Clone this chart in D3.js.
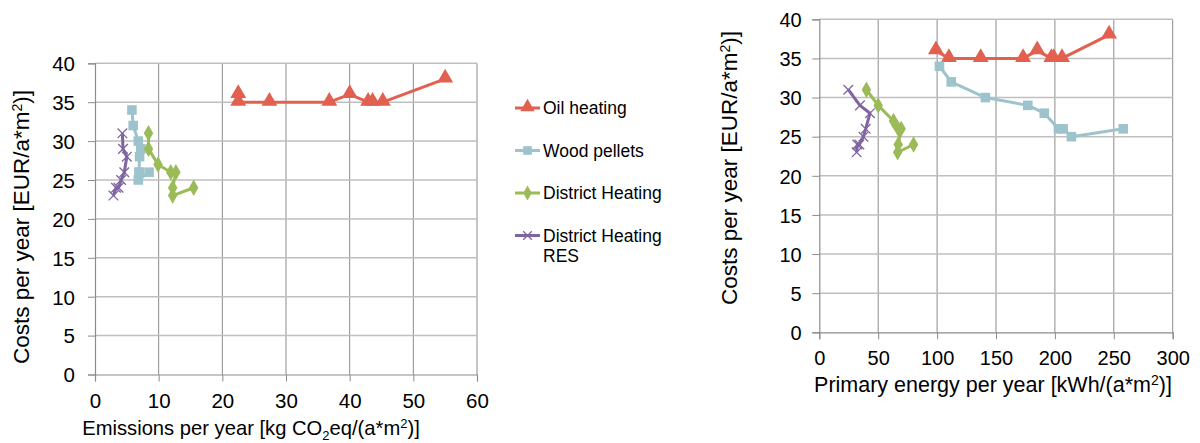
<!DOCTYPE html>
<html>
<head>
<meta charset="utf-8">
<script src="https://cdn.jsdelivr.net/npm/d3@7"></script>
<style>
  body { margin: 0; background: #fff; }
  svg { font-family: "Liberation Sans", Arial, sans-serif; }
</style>
</head>
<body>
<svg id="chart" width="1200" height="443"></svg>
<script>
// series names, in legend order
var seriesNames = ["Oil heating", "Wood pellets", "District Heating", "District Heating RES"];

// costs per year [EUR/a*m2], same for both panels
var oilCosts   = [36, 35, 35, 35, 36, 35, 35, 35, 38];
var woodCosts  = [34, 32, 30, 29, 28, 26, 26, 25, 26];
var dhCosts    = [31, 29, 27, 26, 26, 24, 23, 24];
var resCosts   = [31, 29, 28, 26, 25, 24, 24, 23];

// emissions per year [kg CO2eq/(a*m2)]
var oilEmissions  = [22.5, 22.5, 27.4, 36.8, 40.0, 42.9, 43.6, 45.2, 55.0];
var woodEmissions = [5.8, 6.0, 6.8, 7.2, 7.0, 6.9, 7.0, 6.8, 8.5];
var dhEmissions   = [8.4, 8.4, 9.9, 11.9, 12.7, 12.2, 12.2, 15.5];
var resEmissions  = [4.3, 4.4, 5.0, 4.6, 4.1, 3.7, 3.3, 2.9];

// primary energy per year [kWh/(a*m2)]
var oilEnergy  = [99, 110, 137, 173, 185, 197, 199, 206, 246];
var woodEnergy = [102, 112, 141, 177, 191, 203, 207, 214, 258];
var dhEnergy   = [40, 50, 63, 67, 69.5, 67, 66.5, 80];
var resEnergy  = [24.6, 34.5, 43, 39.4, 37.4, 34, 32.3, 31.7];

var costTicks     = [0, 5, 10, 15, 20, 25, 30, 35, 40];
var emissionTicks = [0, 10, 20, 30, 40, 50, 60];
var energyTicks   = [0, 50, 100, 150, 200, 250, 300];

var colors = ["#e2604f", "#9dc3cc", "#9bbb59", "#8064a2"];
var markers = ["triangle", "square", "diamond", "cross"];

var svg = d3.select("#chart");

function zip(xs, ys) {
  return xs.map(function (x, i) { return {x: x, y: ys[i]}; });
}

function sup(t, s, size) {
  t.append("tspan").text(s).style("font-size", size + "px").attr("dy", -7);
}

function drawMarker(g, type, color, scale) {
  scale = scale || 1;
  if (type == "cross") {
    var r = 4.8 * scale;
    g.append("path")
      .attr("d", "M" + -r + "," + -r + "L" + r + "," + r + "M" + -r + "," + r + "L" + r + "," + -r)
      .attr("stroke", color)
      .attr("stroke-width", 1.3)
      .attr("fill", "none");
    return;
  }
  var sym = {triangle: d3.symbolTriangle, square: d3.symbolSquare, diamond: d3.symbolDiamond}[type];
  var size = {triangle: 110, square: 92, diamond: 78}[type] * scale * scale;
  g.append("path")
    .attr("d", d3.symbol().type(sym).size(size)())
    .attr("transform", type == "triangle" ? "translate(0,-1)" : null)
    .attr("fill", color);
}

function drawPanel(opt) {
  var x = d3.scaleLinear().domain([opt.xTicks[0], opt.xTicks[opt.xTicks.length - 1]]).range([opt.left, opt.right]);
  var y = d3.scaleLinear().domain([0, 40]).range([opt.bottom, opt.top]);
  var g = svg.append("g");

  // vertical grid
  g.selectAll(".vgrid")
    .data(opt.xTicks.slice(1))
    .enter()
      .append("line")
        .attr("x1", function (d) { return x(d); })
        .attr("x2", function (d) { return x(d); })
        .attr("y1", opt.top)
        .attr("y2", opt.bottom)
        .attr("stroke", "#8c8c8c")
        .attr("stroke-width", 1);

  // horizontal grid
  g.selectAll(".hgrid")
    .data(costTicks.slice(1))
    .enter()
      .append("line")
        .attr("x1", opt.left)
        .attr("x2", opt.right)
        .attr("y1", function (d) { return y(d); })
        .attr("y2", function (d) { return y(d); })
        .attr("stroke", "#bfbfbf")
        .attr("stroke-width", 1.5);

  var xAxis = g.append("g")
    .attr("transform", "translate(0," + opt.bottom + ")")
    .call(d3.axisBottom(x).tickValues(opt.xTicks).tickSize(7).tickPadding(opt.xPad));
  var yAxis = g.append("g")
    .attr("transform", "translate(" + opt.left + ",0)")
    .call(d3.axisLeft(y).tickValues(costTicks).tickSize(7).tickPadding(opt.yPad));

  [xAxis, yAxis].forEach(function (a) {
    a.select(".domain").attr("stroke", "#8c8c8c").attr("stroke-width", 1.2);
    a.selectAll(".tick line").attr("stroke", "#8c8c8c");
    a.selectAll(".tick text")
      .attr("fill", "#000")
      .style("font-size", opt.tickSize + "px")
      .style("font-family", "'Liberation Sans', Arial, sans-serif");
  });
  yAxis.selectAll(".tick text").attr("dy", "0.36em");

  // series
  var line = d3.line()
    .x(function (d) { return x(d.x); })
    .y(function (d) { return y(d.y); });

  opt.series.forEach(function (pts, i) {
    g.append("path")
      .datum(pts)
      .attr("d", line)
      .attr("fill", "none")
      .attr("stroke", colors[i])
      .attr("stroke-width", 3)
      .attr("stroke-linejoin", "round");
    pts.forEach(function (p) {
      var m = g.append("g").attr("transform", "translate(" + x(p.x) + "," + y(p.y) + ")");
      drawMarker(m, markers[i], colors[i]);
    });
  });

  // x title
  var xt = g.append("text")
    .attr("x", opt.xTitleX)
    .attr("y", opt.xTitleY)
    .attr("text-anchor", "middle")
    .style("font-size", opt.xTitleSize + "px");
  opt.xTitle(xt);

  // y title
  var yt = g.append("text")
    .attr("transform", "translate(" + opt.yTitleX + "," + opt.yTitleY + ") rotate(-90)")
    .attr("text-anchor", "middle")
    .style("font-size", opt.yTitleSize + "px");
  yt.append("tspan").text("Costs per year [EUR/a*m");
  sup(yt, "2", 14);
  yt.append("tspan").text(")]").attr("dy", 7);
}

drawPanel({
  left: 95, right: 477, top: 63.3, bottom: 374.5,
  xTicks: emissionTicks,
  tickSize: 20.5, xPad: 12, yPad: 13,
  series: [zip(oilEmissions, oilCosts), zip(woodEmissions, woodCosts),
           zip(dhEmissions, dhCosts), zip(resEmissions, resCosts)],
  xTitleX: 251, xTitleY: 435, xTitleSize: 20.2,
  yTitleX: 29, yTitleY: 227, yTitleSize: 22.5,
  xTitle: function (t) {
    t.append("tspan").text("Emissions per year [kg CO");
    t.append("tspan").text("2").style("font-size", "13px").attr("dy", 5);
    t.append("tspan").text("eq/(a*m").attr("dy", -5);
    sup(t, "2", 13);
    t.append("tspan").text(")]").attr("dy", 7);
  }
});

drawPanel({
  left: 819.3, right: 1172.7, top: 19.3, bottom: 332.3,
  xTicks: energyTicks,
  tickSize: 20, xPad: 11.5, yPad: 10.6,
  series: [zip(oilEnergy, oilCosts), zip(woodEnergy, woodCosts),
           zip(dhEnergy, dhCosts), zip(resEnergy, resCosts)],
  xTitleX: 993, xTitleY: 391.7, xTitleSize: 21.5,
  yTitleX: 737, yTitleY: 168, yTitleSize: 22.5,
  xTitle: function (t) {
    t.append("tspan").text("Primary energy per year [kWh/(a*m");
    sup(t, "2", 14);
    t.append("tspan").text(")]").attr("dy", 7);
  }
});

// legend
var legend = svg.append("g").attr("transform", "translate(515,108)");
seriesNames.forEach(function (name, i) {
  var row = legend.append("g").attr("transform", "translate(0," + (i * 42.5) + ")");
  row.append("line")
    .attr("x1", 0).attr("x2", 25)
    .attr("stroke", colors[i]).attr("stroke-width", 3);
  var m = row.append("g").attr("transform", "translate(12.5,0)");
  drawMarker(m, markers[i], colors[i], 0.9);
  var words = name == "District Heating RES" ? ["District Heating", "RES"] : [name];
  words.forEach(function (w, j) {
    row.append("text")
      .attr("x", 28)
      .attr("y", 6 + j * 20.5)
      .style("font-size", "17.5px")
      .text(w);
  });
});
</script>
</body>
</html>
